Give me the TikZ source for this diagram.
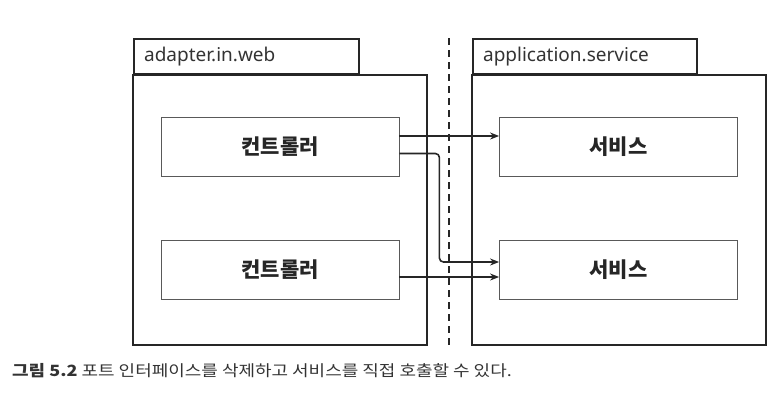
\documentclass[tikz,border=0pt]{standalone}
\usepackage{fontspec}
\setmainfont{Noto Sans CJK KR}
\newfontfamily\pkgfont{Noto Sans}
\newfontfamily\capfont[FakeStretch=1.16]{Noto Sans CJK KR}
\usetikzlibrary{arrows.meta}

\begin{document}
\begin{tikzpicture}[
			x=1pt, y=-1pt,
			pkg/.style={draw=black!85, line width=2.2pt},
			pkg-tab/.style={pkg, anchor=north west, minimum height=35pt, inner xsep=10pt, align=left, text=black!80, font=\pkgfont\fontsize{19}{19}\selectfont},
			comp/.style={draw=black!65, line width=0.8pt, minimum width=238pt, minimum height=59pt, text=black!85, font=\fontsize{21}{21}\selectfont\bfseries},
			call/.style={draw=black!85, line width=1.6pt, -{Stealth[length=9pt, width=7pt]}},
			border/.style={draw=black!85, line width=1.6pt, dash pattern=on 7pt off 5pt},
			]

			\newcommand{\rowa}{146.5}
			\newcommand{\rowb}{270}

			\useasboundingbox (0,0) rectangle (784,405);

			% packages
			\node [pkg-tab, text width=205pt] (webtab) at (133,38) {adapter.in.web};
			\draw [pkg] (webtab.south west) rectangle (427,345);
			\node [pkg-tab, text width=204pt] (svctab) at (472,38) {application.service};
			\draw [pkg] (svctab.south west) rectangle (766,345);

			% boundary
			\coordinate (bordertop) at (449,38);
			\coordinate (borderbot) at (449,349);
			\draw [border] (bordertop) -- (borderbot);

			% components
			\node [comp] (ctrla) at (280,\rowa) {컨트롤러};
			\node [comp] (ctrlb) at (280,\rowb) {컨트롤러};
			\node [comp] (svca) at (618.5,\rowa) {서비스};
			\node [comp] (svcb) at (618.5,\rowb) {서비스};

			% calls
			\draw [call] ([yshift=10.5pt]ctrla.east) -- ([yshift=10.5pt]svca.west);
			\draw [call, rounded corners=4pt] ([yshift=-7pt]ctrla.east) -- ++(40,0) |- ([yshift=8pt]svcb.west);
			\draw [call] ([yshift=-7pt]ctrlb.east) -- ([yshift=-7pt]svcb.west);

			% caption
			\node [anchor=west, inner sep=0pt, text=black!80, font=\capfont\fontsize{15.5}{16}\selectfont] (caption) at (12,371)
				{\textbf{그림 5.2} 포트 인터페이스를 삭제하고 서비스를 직접 호출할 수 있다.};

		\end{tikzpicture}
\end{document}
